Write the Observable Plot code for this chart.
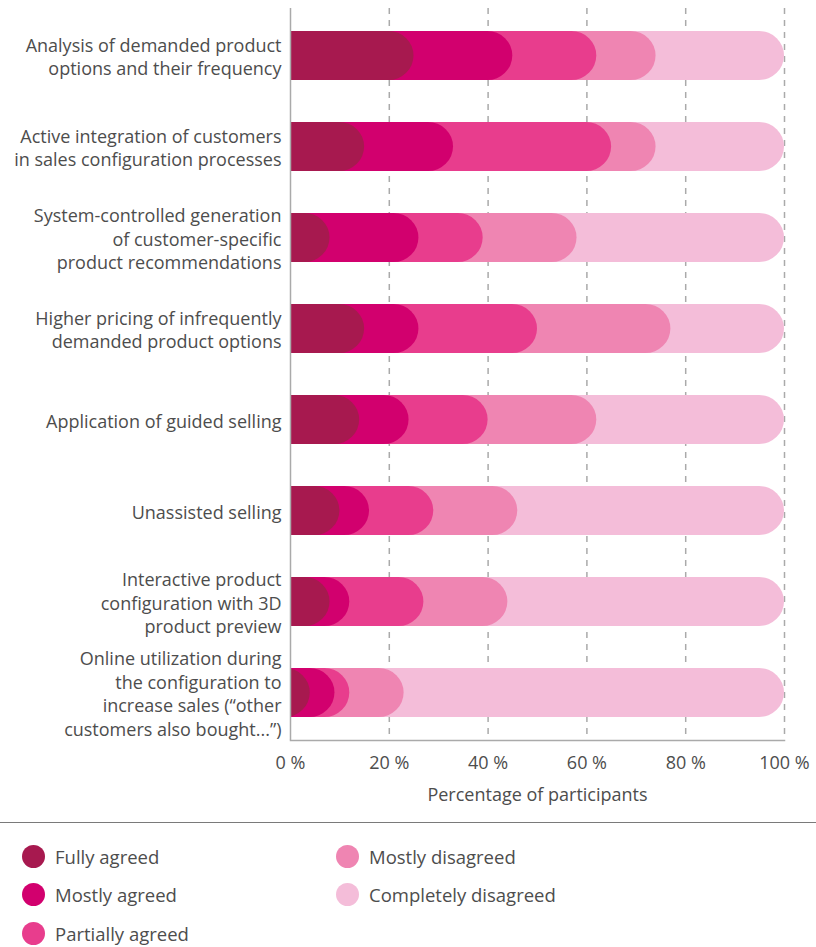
<!DOCTYPE html>
<html><head><meta charset="utf-8">
<script src="https://cdn.jsdelivr.net/npm/d3@7"></script>
<script src="https://cdn.jsdelivr.net/npm/@observablehq/plot@0.6"></script>
<style>
body{margin:0;background:#fff;font-family:"Open Sans",sans-serif;color:#4d4d4d;}
#chart svg{display:block;}
#legend{border-top:1.5px solid #7a7a7a;display:grid;grid-auto-flow:column;grid-template-rows:repeat(3,38.5px);grid-template-columns:314px 300px;padding:14px 0 0 22px;}
.item{display:flex;align-items:center;font-size:18.5px;color:#4d4d4d;}
.sw{width:23px;height:23px;border-radius:50%;margin-right:10px;flex:none;}
</style></head><body>
<div id="chart"></div>
<div id="legend"></div>
<script>
const categories = [
  "Analysis of demanded product\noptions and their frequency",
  "Active integration of customers\nin sales configuration processes",
  "System-controlled generation\nof customer-specific\nproduct recommendations",
  "Higher pricing of infrequently\ndemanded product options",
  "Application of guided selling",
  "Unassisted selling",
  "Interactive product\nconfiguration with 3D\nproduct preview",
  "Online utilization during\nthe configuration to\nincrease sales (“other\ncustomers also bought...”)"
];
const levels = ["Fully agreed","Mostly agreed","Partially agreed","Mostly disagreed","Completely disagreed"];
const colors = ["#a7194f","#d2006e","#e83d8d","#ef85b2","#f4bdd9"];
const fullyAgreed        = [25,15, 8,15,14,10, 8, 4];
const mostlyAgreed       = [20,18,18,11,10, 6, 4, 5];
const partiallyAgreed    = [17,32,13,24,16,13,15, 3];
const mostlyDisagreed    = [12, 9,19,27,22,17,17,11];
const completelyDisagreed= [26,26,42,23,38,54,56,77];
const xTicks = [0,20,40,60,80,100];
const gridTicks = [20,40,60,80,100];

const series = [fullyAgreed, mostlyAgreed, partiallyAgreed, mostlyDisagreed, completelyDisagreed];
const rows = [];
categories.forEach((c, i) => {
  let cum = 0;
  series.forEach((s, j) => {
    cum += s[i];
    rows.push({category: c, level: levels[j], end: cum, order: j});
  });
});
rows.sort((a, b) => b.order - a.order);

const chart = Plot.plot({
  width: 816,
  height: 822,
  marginLeft: 290,
  marginRight: 32,
  marginTop: 8,
  marginBottom: 82,
  style: {fontFamily: "'Open Sans', sans-serif", fontSize: "18px", color: "#4d4d4d", background: "#fff"},
  x: {domain: [0, 100]},
  y: {domain: categories, paddingInner: 0.457, paddingOuter: 0.2285, axis: null},
  color: {domain: levels, range: colors},
  marks: [
    Plot.ruleX(gridTicks, {stroke: "#aaaaaa", strokeWidth: 1.5, strokeDasharray: "6,6"}),
    Plot.barX(rows, {x1: 0, x2: "end", y: "category", fill: "level", rx: 25, insetLeft: -40, clip: true}),
    Plot.ruleX([0], {stroke: "#aaaaaa", strokeWidth: 1.5}),
    Plot.frame({anchor: "bottom", stroke: "#aaaaaa", strokeWidth: 1.5}),
    Plot.axisX({ticks: xTicks, tickFormat: d => `${d} %`, tickSize: 0, tickPadding: 16, fontSize: 18, color: "#4d4d4d",
      label: "Percentage of participants", labelAnchor: "center", labelArrow: "none", labelOffset: 60}),
    Plot.text(categories, {y: d => d, text: d => d, frameAnchor: "left", textAnchor: "end", dx: -9, lineHeight: 1.3, fontSize: 18, fill: "#4d4d4d"})
  ]
});
document.getElementById("chart").appendChild(chart);

const legend = document.getElementById("legend");
levels.forEach((l, i) => {
  const item = document.createElement("div");
  item.className = "item";
  const sw = document.createElement("span");
  sw.className = "sw";
  sw.style.background = colors[i];
  item.appendChild(sw);
  item.appendChild(document.createTextNode(l));
  legend.appendChild(item);
});
</script>
</body></html>
